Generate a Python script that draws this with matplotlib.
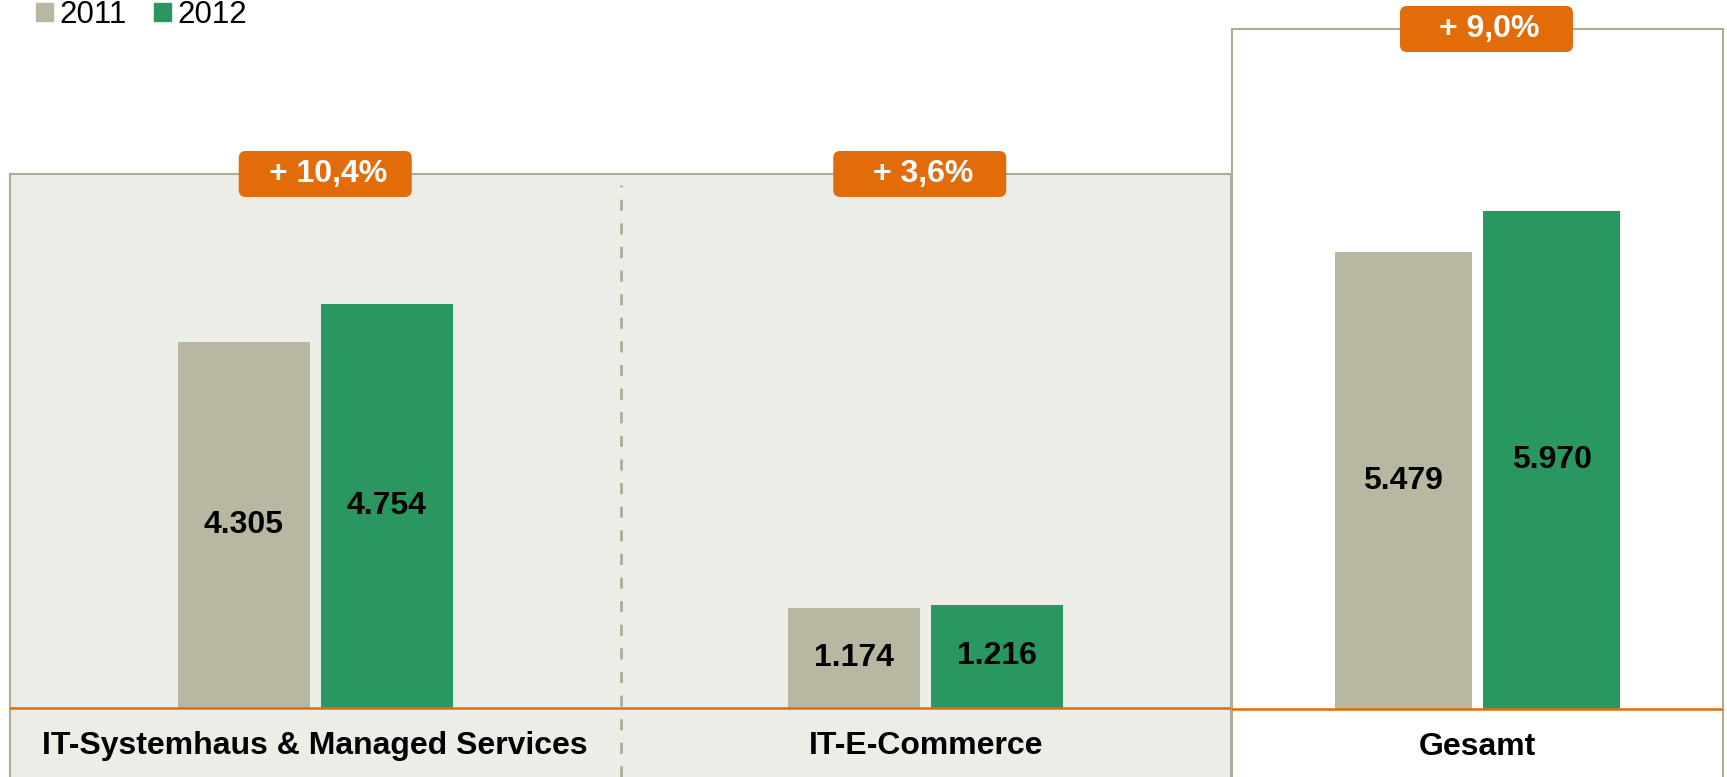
import matplotlib
matplotlib.use('Agg')
import matplotlib.pyplot as plt
from matplotlib.patches import FancyBboxPatch, Patch
from matplotlib.transforms import IdentityTransform

plt.rcParams['font.family'] = ['Liberation Sans', 'DejaVu Sans']

# data
years = ['2011', '2012']
segments = ['IT-Systemhaus & Managed Services', 'IT-E-Commerce']
seg_2011 = [4305, 1174]
seg_2012 = [4754, 1216]
total_label = 'Gesamt'
total_2011 = [5479]
total_2012 = [5970]
seg_growth = ['+ 10,4%', '+ 3,6%']
total_growth = ['+ 9,0%']

GRAY = '#b8b8a2'
GREEN = '#2a9660'
ORANGE = '#e36c0a'
PANEL = '#edede8'
BORDER = '#adad96'

W, H = 1727, 777
fig = plt.figure(figsize=(W / 100, H / 100), dpi=100)


def px_rect(l, t, r, b):
    return [l / W, 1 - b / H, (r - l) / W, (b - t) / H]


def fmt(v):
    return f'{v:,}'.replace(',', '.')


def draw_panel(ax, names, v11, v12, growth, width, off, bg, badge_shift):
    ax.set_facecolor(bg)
    xs = list(range(len(names)))
    ax.bar([x - off for x in xs], v11, width, color=GRAY, zorder=2)
    ax.bar([x + off for x in xs], v12, width, color=GREEN, zorder=2)
    ax.axhline(0, color=ORANGE, lw=1.8, zorder=3)
    for x, a, b in zip(xs, v11, v12):
        ax.text(x - off, a / 2, fmt(a), ha='center', va='center',
                fontsize=23, fontweight='bold', zorder=4)
        ax.text(x + off, b / 2, fmt(b), ha='center', va='center',
                fontsize=23, fontweight='bold', zorder=4)
    for x, n in zip(xs, names):
        ax.annotate(n, (x, 0), xytext=(0, -27.4), textcoords='offset points',
                    ha='center', va='center', fontsize=23, fontweight='bold')
    ax.set_xticks([])
    ax.set_yticks([])
    for s in ['left', 'top', 'right']:
        ax.spines[s].set_color(BORDER)
        ax.spines[s].set_linewidth(1.5)
    ax.spines['bottom'].set_visible(False)
    # growth badges sitting on the panel top edge
    ytop = ax.transAxes.transform((0, 1))[1]
    for x, g, dx in zip(xs, growth, badge_shift):
        xc = ax.transData.transform((x, 0))[0] + dx
        bw, bh = 173, 46
        fig.add_artist(FancyBboxPatch((xc - bw / 2, ytop - bh / 2), bw, bh,
                                      boxstyle='round,pad=0,rounding_size=7',
                                      fc=ORANGE, ec='none',
                                      transform=IdentityTransform(), zorder=5))
        fig.text(xc + 3, ytop, g, ha='center', va='center', color='white',
                 fontsize=23, fontweight='bold',
                 transform=IdentityTransform(), zorder=6)


# left panel: two segments
ax1 = fig.add_axes(px_rect(10, 174, 1231, 777))
ax1.set_xlim(-0.5, 1.5)
ax1.set_ylim(-69 / 0.085, 534 / 0.085)
ax1.axvline(0.5, ymin=0, ymax=1 - 11 / 603, color=BORDER, lw=2,
            linestyle=(0, (4, 4.5)), zorder=1)
draw_panel(ax1, segments, seg_2011, seg_2012, seg_growth, 0.216, 0.117, PANEL,
           [10, -6])

# right panel: total
ax2 = fig.add_axes(px_rect(1232, 29, 1723, 777))
ax2.set_xlim(-0.5, 0.5)
ax2.set_ylim(-68 / 0.0834, 680 / 0.0834)
draw_panel(ax2, [total_label], total_2011, total_2012, total_growth,
           0.279, 0.151, 'white', [9])

handles = [Patch(color=GRAY, label=years[0]), Patch(color=GREEN, label=years[1])]
fig.legend(handles=handles, loc='upper left', bbox_to_anchor=(36 / W, 1),
           ncol=2, frameon=False, fontsize=22.5, handlelength=0.55, handleheight=0.55,
           handletextpad=0.2, columnspacing=0.86, borderpad=0, borderaxespad=0)

fig.savefig('out.png', dpi=100)
